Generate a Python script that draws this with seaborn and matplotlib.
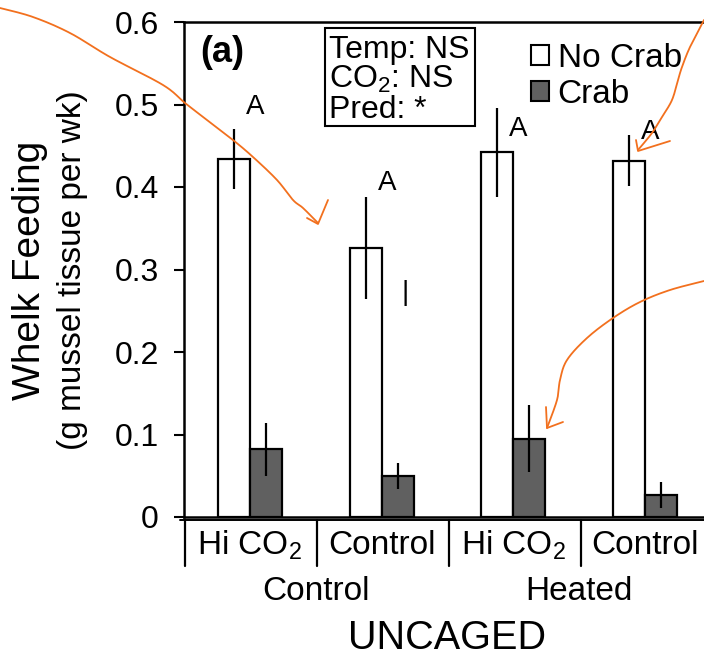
import numpy as np
import pandas as pd
import matplotlib
matplotlib.use("Agg")
import matplotlib.pyplot as plt
import matplotlib.transforms as mtransforms
from matplotlib.lines import Line2D
from matplotlib.patches import Rectangle, Patch
import seaborn as sns

# ---------------- data ----------------
treatments = ["Control / Hi CO2", "Control / Control", "Heated / Hi CO2", "Heated / Control"]
co2_labels = ["Hi CO$_2$", "Control", "Hi CO$_2$", "Control"]
temp_labels = ["Control", "Heated"]
pred_levels = ["No Crab", "Crab"]
nocrab_mean = [0.434, 0.326, 0.442, 0.432]
nocrab_se = [0.036, 0.062, 0.054, 0.031]
crab_mean = [0.082, 0.050, 0.095, 0.027]
crab_se = [0.032, 0.016, 0.041, 0.0155]
letters = ["A", "A", "A", "A"]
letter_pos_y = [0.497, 0.405, 0.470, 0.467]
yticks = [0, 0.1, 0.2, 0.3, 0.4, 0.5, 0.6]
ytick_labels = ["0", "0.1", "0.2", "0.3", "0.4", "0.5", "0.6"]
stats_lines = ["Temp: NS", "CO$_2$: NS", "Pred: *"]
bar_colors = ["white", "#606060"]

# ---------------- style ----------------
sns.set_theme(style="white")
plt.rcParams["font.family"] = ["Liberation Sans", "DejaVu Sans"]
plt.rcParams["mathtext.fontset"] = "custom"
plt.rcParams["mathtext.rm"] = "Liberation Sans"
plt.rcParams["mathtext.default"] = "regular"
for key in ["text.color", "axes.labelcolor", "xtick.color", "ytick.color", "axes.edgecolor"]:
    plt.rcParams[key] = "black"

W, H = 704, 657
fig = plt.figure(figsize=(W / 100, H / 100), dpi=100)
fig.patch.set_facecolor("white")


def fx(x):
    return x / W


def fy(y):
    return 1 - y / H


ax = fig.add_axes([fx(184), fy(517), (711 - 184) / W, 495 / H])

df = pd.DataFrame({
    "treatment": treatments * 2,
    "pred": [pred_levels[0]] * 4 + [pred_levels[1]] * 4,
    "feeding": nocrab_mean + crab_mean,
})

sns.barplot(data=df, x="treatment", y="feeding", hue="pred", hue_order=pred_levels,
            palette=bar_colors, saturation=1, edgecolor="black", linewidth=1.6,
            width=0.485, gap=0, errorbar=None, legend=False, ax=ax)

for cont, errs in zip(ax.containers, [nocrab_se, crab_se]):
    for bar, e in zip(cont, errs):
        xc = bar.get_x() + bar.get_width() / 2
        ax.errorbar(xc, bar.get_height(), yerr=e, color="black", lw=1.6, capsize=0, zorder=5)

ax.set_xlim(-0.5, 3.5)
ax.set_ylim(0, 0.6)
ax.set_yticks(yticks)
ax.set_yticklabels(ytick_labels)
ax.set_xticks(range(4))
ax.set_xticklabels(co2_labels, va="baseline")
ax.tick_params(axis="y", direction="out", length=7, width=1.5, labelsize=23, pad=11,
               left=True, colors="black")
ax.tick_params(axis="x", length=0, labelsize=24, pad=27, colors="black")
ax.set_xlabel("")
ax.set_ylabel("")
for s in ["left", "top", "bottom"]:
    ax.spines[s].set_linewidth(1.8)
    ax.spines[s].set_color("black")
ax.spines["right"].set_visible(False)

# letters
for i, (lt, ly) in enumerate(zip(letters, letter_pos_y)):
    ax.text(i + 0.04, ly, lt, ha="center", va="center", fontsize=20)

# stray mark
ax.text(1.18, 0.272, "|", ha="center", va="center", fontsize=20)

# separators under axis
blend = mtransforms.blended_transform_factory(ax.transData, ax.transAxes)
for k in range(5):
    ax.add_line(Line2D([k - 0.49, k - 0.49], [-3 / 495, -49 / 495], transform=blend,
                       color="black", lw=1.6, clip_on=False))
ax.add_line(Line2D([-0.53, 3.6], [-3 / 495, -3 / 495], transform=blend,
                   color="black", lw=1.4, clip_on=False))

# group labels
for j, tl in enumerate(temp_labels):
    ax.text(0.5 + 2 * j, -(600 - 517) / 495, tl, transform=blend, ha="center",
            va="baseline", fontsize=24)
ax.text(1.5, -(649 - 517) / 495, "UNCAGED", transform=blend, ha="center",
        va="baseline", fontsize=28.5)

# y labels
fig.text(fx(30), fy(270), "Whelk Feeding", rotation=90, fontsize=28, ha="center", va="center")
fig.text(fx(73), fy(270), "(g mussel tissue per wk)", rotation=90, fontsize=24,
         ha="center", va="center")

# panel label
fig.text(fx(222), fy(52), "(a)", fontweight="bold", fontsize=26, ha="center", va="center")

# stats box
fig.add_artist(Rectangle((fx(325), fy(126)), 150 / W, 98 / H, transform=fig.transFigure,
                         facecolor="white", edgecolor="black", lw=1.5, zorder=3))
for k, line in enumerate(stats_lines):
    fig.text(fx(329), fy(58 + 30 * k), line, fontsize=23, ha="left", va="baseline", zorder=4)

# legend
handles = [Patch(facecolor=c, edgecolor="black", lw=1.5) for c in bar_colors]
ax.legend(handles, pred_levels, loc="upper left", bbox_to_anchor=(fx(531), fy(43)),
          bbox_transform=fig.transFigure, frameon=False, fontsize=24, handlelength=0.55,
          handleheight=0.55, handletextpad=0.25, labelspacing=0.15, borderpad=0,
          borderaxespad=0)


# orange hand-drawn arrows
def smooth(pts, n=20):
    pts = np.array(pts, float)
    P = np.vstack([pts[0], pts, pts[-1]])
    out = []
    t = np.linspace(0, 1, n)[:, None]
    for i in range(1, len(P) - 2):
        p0, p1, p2, p3 = P[i - 1], P[i], P[i + 1], P[i + 2]
        out.append(0.5 * ((2 * p1) + (-p0 + p2) * t + (2 * p0 - 5 * p1 + 4 * p2 - p3) * t ** 2
                          + (-p0 + 3 * p1 - 3 * p2 + p3) * t ** 3))
    return np.vstack(out)


orange = "#F2701E"
curves = [
    [(0, 8), (33, 17), (70, 33), (110, 57), (163, 85), (185, 103), (207, 120), (233, 140),
     (253, 157), (277, 180), (293, 200), (303, 208), (318, 223)],
    [(704, 20), (690, 47), (682, 67), (678, 80), (672, 100), (662, 117), (652, 133), (638, 150)],
    [(704, 281), (670, 290), (640, 302), (613, 318), (587, 338), (567, 360), (560, 380),
     (557, 400), (547, 428)],
]
heads = [
    [(328, 200), (318, 224), (307, 218)],
    [(670, 141), (638, 151), (636, 140)],
    [(546, 407), (547, 428), (563, 422)],
]
for c in curves:
    s = smooth(c)
    fig.add_artist(Line2D(s[:, 0] / W, 1 - s[:, 1] / H, transform=fig.transFigure,
                          color=orange, lw=1.3, zorder=10))
for hd in heads:
    hd = np.array(hd, float)
    fig.add_artist(Line2D(hd[:, 0] / W, 1 - hd[:, 1] / H, transform=fig.transFigure,
                          color=orange, lw=1.3, zorder=10))

fig.savefig("out.png", dpi=100)
